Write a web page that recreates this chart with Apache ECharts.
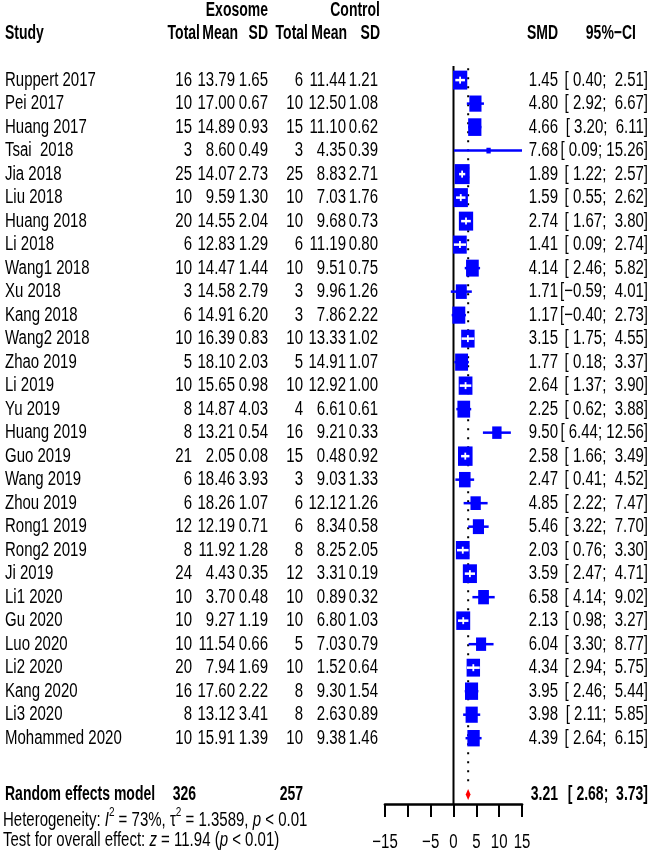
<!DOCTYPE html>
<html><head><meta charset="utf-8">
<script src="https://cdn.jsdelivr.net/npm/echarts@6/dist/echarts.min.js"></script>
<style>html,body{margin:0;padding:0;background:#fff}#c{width:650px;height:852px}</style>
</head><body><div id="c"></div>
<script>
// ---------------- data ----------------
const studies = ["Ruppert 2017","Pei 2017","Huang 2017","Tsai  2018","Jia 2018","Liu 2018","Huang 2018","Li 2018","Wang1 2018","Xu 2018","Kang 2018","Wang2 2018","Zhao 2019","Li 2019","Yu 2019","Huang 2019","Guo 2019","Wang 2019","Zhou 2019","Rong1 2019","Rong2 2019","Ji 2019","Li1 2020","Gu 2020","Luo 2020","Li2 2020","Kang 2020","Li3 2020","Mohammed 2020"];
const expTotal = [16,10,15,3,25,10,20,6,10,3,6,10,5,10,8,8,21,6,6,12,8,24,10,10,10,20,16,8,10];
const expMean = [13.79,17.00,14.89,8.60,14.07,9.59,14.55,12.83,14.47,14.58,14.91,16.39,18.10,15.65,14.87,13.21,2.05,18.46,18.26,12.19,11.92,4.43,3.70,9.27,11.54,7.94,17.60,13.12,15.91];
const expSD = [1.65,0.67,0.93,0.49,2.73,1.30,2.04,1.29,1.44,2.79,6.20,0.83,2.03,0.98,4.03,0.54,0.08,3.93,1.07,0.71,1.28,0.35,0.48,1.19,0.66,1.69,2.22,3.41,1.39];
const ctrlTotal = [6,10,15,3,25,10,10,6,10,3,3,10,5,10,4,16,15,3,6,6,8,12,10,10,5,10,8,8,10];
const ctrlMean = [11.44,12.50,11.10,4.35,8.83,7.03,9.68,11.19,9.51,9.96,7.86,13.33,14.91,12.92,6.61,9.21,0.48,9.03,12.12,8.34,8.25,3.31,0.89,6.80,7.03,1.52,9.30,2.63,9.38];
const ctrlSD = [1.21,1.08,0.62,0.39,2.71,1.76,0.73,0.80,0.75,1.26,2.22,1.02,1.07,1.00,0.61,0.33,0.92,1.33,1.26,0.58,2.05,0.19,0.32,1.03,0.79,0.64,1.54,0.89,1.46];
const smd = [1.45,4.80,4.66,7.68,1.89,1.59,2.74,1.41,4.14,1.71,1.17,3.15,1.77,2.64,2.25,9.50,2.58,2.47,4.85,5.46,2.03,3.59,6.58,2.13,6.04,4.34,3.95,3.98,4.39];
const ciLower = [0.40,2.92,3.20,0.09,1.22,0.55,1.67,0.09,2.46,-0.59,-0.40,1.75,0.18,1.37,0.62,6.44,1.66,0.41,2.22,3.22,0.76,2.47,4.14,0.98,3.30,2.94,2.46,2.11,2.64];
const ciUpper = [2.51,6.67,6.11,15.26,2.57,2.62,3.80,2.74,5.82,4.01,2.73,4.55,3.37,3.90,3.88,12.56,3.49,4.52,7.47,7.70,3.30,4.71,9.02,3.27,8.77,5.75,5.44,5.85,6.15];
// estimated study weights (%) — box area
const weights = [4.4,3.2,3.8,0.4,4.9,4.4,4.4,4.0,3.5,2.6,3.6,3.9,3.6,4.1,3.5,1.9,4.6,2.9,2.3,2.7,4.1,4.3,2.5,4.2,2.2,3.9,3.7,3.2,3.3];
const pooledLabel = "Random effects model";
const pooledTotals = [326, 257];
const pooledSMD = [3.21, 2.68, 3.73]; // estimate, lower, upper
const xTickValues = [-15, -5, 0, 5, 10, 15];
const heterogeneity = ["73%", "1.3589", "< 0.01"]; // I2, tau2, p
const overallTest = ["11.94", "< 0.01"]; // z, p

// ---------------- layout helpers ----------------
const FONT = '"Liberation Sans", Arial, Helvetica, sans-serif';
const SY = 1.33;
const BLUE = '#0000FF', RED = '#FF0000';
const COL = {study: 5, eT: 192, eM: 235, eS: 268, cT: 303, cM: 346, cS: 378, smd: 558, ci: 648};
const Y_MIN = -0.6, Y_MAX = 30.8, SUMMARY_ROW = 30.4;
const BOX_K = 6.8;

function fmt(v) { const s = Math.abs(v).toFixed(2); return (v < 0 ? '\u2212' : '') + s; }
function pad(s, n) { while (s.length < n) s = ' ' + s; return s; }
function ciText(lo, hi) { return '[' + pad(fmt(lo), 5) + '; ' + pad(fmt(hi), 5) + ']'; }

function txt(x, y, s, align, bold, extraStyle) {
  return {
    type: 'text', x: x, y: y, scaleY: bold ? SY * 15 / 14 : SY,
    style: Object.assign({
      text: s, x: 0, y: 0, fill: '#000',
      font: bold ? ('bold 14px ' + FONT) : ('15px ' + FONT),
      align: align || 'left', verticalAlign: 'middle'
    }, extraStyle || {})
  };
}

const rows = studies.map((s, i) => [smd[i], i, ciLower[i], ciUpper[i], weights[i]]);

const chart = echarts.init(document.getElementById('c'), null, {renderer: 'canvas'});

const option = {
  animation: false,
  backgroundColor: '#ffffff',
  grid: {left: 385, width: 137, top: 66, height: 738},
  xAxis: {
    type: 'value', min: -15, max: 15, interval: 5, position: 'bottom',
    axisLine: {show: true, onZero: false, lineStyle: {color: '#000', width: 2.7}},
    axisTick: {show: true, length: 13, lineStyle: {color: '#000', width: 2}},
    axisLabel: {show: false},
    splitLine: {show: false}
  },
  yAxis: {type: 'value', inverse: true, min: Y_MIN, max: Y_MAX, show: false},
  graphic: [
    txt(268, 11, 'Exosome', 'right', true),
    txt(380, 11, 'Control', 'right', true),
    txt(COL.study, 34, 'Study', 'left', true),
    txt(200, 34, 'Total', 'right', true),
    txt(238, 34, 'Mean', 'right', true),
    txt(268, 34, 'SD', 'right', true),
    txt(308, 34, 'Total', 'right', true),
    txt(347, 34, 'Mean', 'right', true),
    txt(380, 34, 'SD', 'right', true),
    txt(558, 34, 'SMD', 'right', true),
    txt(636, 34, '95%\u2212CI', 'right', true),
    txt(3, 818, '{n|Heterogeneity: }{i|I}{s|2}{n| = ' + heterogeneity[0] + ', \u03c4}{s|2}{n| = ' + heterogeneity[1] + ', }{i|p}{n| ' + heterogeneity[2] + '}', 'left', false, {
      rich: {
        n: {font: '15px ' + FONT, fill: '#000', verticalAlign: 'bottom', lineHeight: 19},
        i: {font: 'italic 15px ' + FONT, fill: '#000', verticalAlign: 'bottom', lineHeight: 19},
        s: {font: '10px ' + FONT, fill: '#000', verticalAlign: 'top', lineHeight: 19}
      }
    }),
    txt(3, 840, '{n|Test for overall effect: }{i|z}{n| = ' + overallTest[0] + ' (}{i|p}{n| ' + overallTest[1] + ')}', 'left', false, {
      rich: {
        n: {font: '15px ' + FONT, fill: '#000'},
        i: {font: 'italic 15px ' + FONT, fill: '#000'}
      }
    })
  ],
  series: [
    { // reference lines: zero line + dotted pooled line
      type: 'custom', z: 1, silent: true,
      data: [[0, pooledSMD[0]]],
      renderItem: function (params, api) {
        const top0 = api.coord([0, Y_MIN]);
        const bot0 = api.coord([0, Y_MAX]);
        const pTop = api.coord([api.value(1), Y_MIN + 0.1]);
        const pBot = api.coord([api.value(1), SUMMARY_ROW - 0.3]);
        return {type: 'group', children: [
          {type: 'line', shape: {x1: top0[0], y1: top0[1], x2: bot0[0], y2: bot0[1]}, style: {stroke: '#000', lineWidth: 2}},
          {type: 'line', shape: {x1: pTop[0], y1: pTop[1], x2: pBot[0], y2: pBot[1]}, style: {stroke: '#000', lineWidth: 2, lineDash: [2, 7]}}
        ]};
      }
    },
    { // study boxes and CIs
      type: 'custom', z: 2, silent: true, clip: false,
      data: rows,
      encode: {x: 0, y: 1},
      renderItem: function (params, api) {
        const row = api.value(1);
        const c = api.coord([api.value(0), row]);
        const lo = api.coord([Math.max(-15, api.value(2)), row]);
        const hi = api.coord([Math.min(15, api.value(3)), row]);
        const w = BOX_K * Math.sqrt(api.value(4));
        const h = w * SY;
        const inside = lo[0] >= c[0] - w / 2 && hi[0] <= c[0] + w / 2;
        const children = [];
        if (!inside) children.push({type: 'line', shape: {x1: lo[0], y1: c[1], x2: hi[0], y2: c[1]}, style: {stroke: BLUE, lineWidth: 2.5}});
        children.push({type: 'rect', shape: {x: c[0] - w / 2, y: c[1] - h / 2, width: w, height: h}, style: {fill: BLUE}});
        if (inside) {
          children.push({type: 'line', shape: {x1: lo[0], y1: c[1], x2: hi[0], y2: c[1]}, style: {stroke: '#fff', lineWidth: 2.5}});
          children.push({type: 'line', shape: {x1: c[0], y1: c[1] - 3.5, x2: c[0], y2: c[1] + 3.5}, style: {stroke: '#fff', lineWidth: 1.8}});
        }
        return {type: 'group', children: children};
      }
    },
    { // study text columns
      type: 'custom', z: 3, silent: true, clip: false,
      data: rows,
      encode: {x: 0, y: 1},
      renderItem: function (params, api) {
        const i = params.dataIndex;
        const y = api.coord([0, api.value(1)])[1];
        return {type: 'group', children: [
          txt(COL.study, y, studies[i], 'left'),
          txt(COL.eT, y, String(expTotal[i]), 'right'),
          txt(COL.eM, y, expMean[i].toFixed(2), 'right'),
          txt(COL.eS, y, expSD[i].toFixed(2), 'right'),
          txt(COL.cT, y, String(ctrlTotal[i]), 'right'),
          txt(COL.cM, y, ctrlMean[i].toFixed(2), 'right'),
          txt(COL.cS, y, ctrlSD[i].toFixed(2), 'right'),
          txt(COL.smd, y, fmt(smd[i]), 'right'),
          txt(COL.ci, y, ciText(ciLower[i], ciUpper[i]), 'right')
        ]};
      }
    },
    { // pooled diamond + summary text
      type: 'custom', z: 4, silent: true, clip: false,
      data: [[pooledSMD[0], SUMMARY_ROW, pooledSMD[1], pooledSMD[2]]],
      encode: {x: 0, y: 1},
      renderItem: function (params, api) {
        const row = api.value(1);
        const c = api.coord([api.value(0), row]);
        const lo = api.coord([api.value(2), row]);
        const hi = api.coord([api.value(3), row]);
        const hh = 5.5;
        return {type: 'group', children: [
          {type: 'polygon', shape: {points: [[lo[0], c[1]], [c[0], c[1] - hh], [hi[0], c[1]], [c[0], c[1] + hh]]}, style: {fill: RED}},
          txt(COL.study, c[1], pooledLabel, 'left', true),
          txt(COL.eT + 4, c[1], String(pooledTotals[0]), 'right', true),
          txt(COL.cT, c[1], String(pooledTotals[1]), 'right', true),
          txt(COL.smd, c[1], fmt(api.value(0)), 'right', true),
          txt(COL.ci, c[1], ciText(api.value(2), api.value(3)), 'right', true)
        ]};
      }
    },
    { // x tick labels
      type: 'custom', z: 4, silent: true, clip: false,
      data: xTickValues.map(v => [v, Y_MAX]),
      encode: {x: 0, y: 1},
      renderItem: function (params, api) {
        const v = api.value(0);
        const p = api.coord([v, api.value(1)]);
        return txt(p[0], 842, (v < 0 ? '\u2212' : '') + Math.abs(v), 'center');
      }
    }
  ]
};
chart.setOption(option);
</script>
</body></html>
